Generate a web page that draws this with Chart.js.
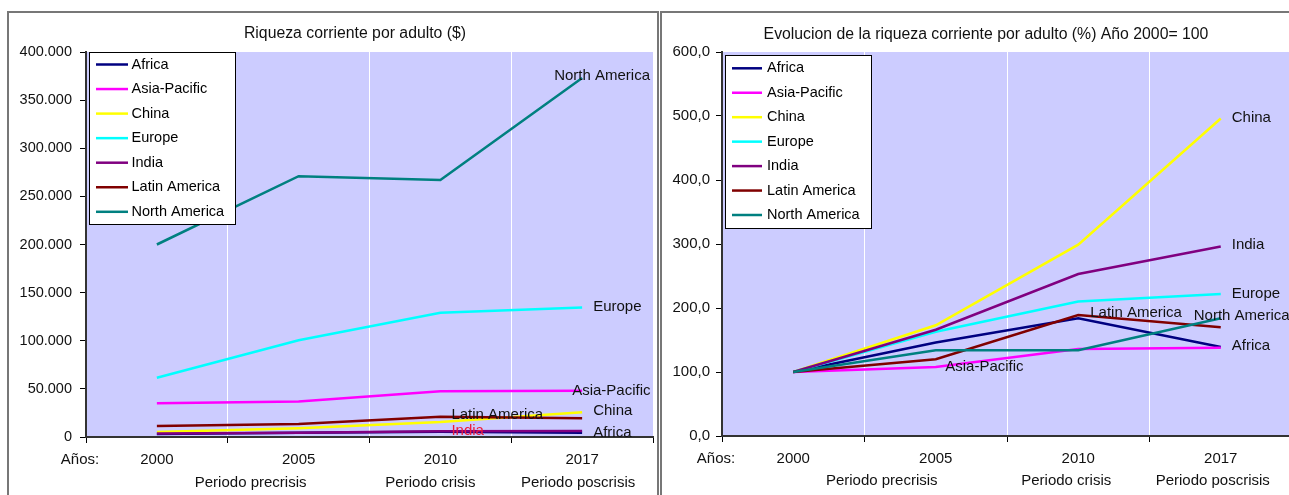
<!DOCTYPE html>
<html>
<head>
<meta charset="utf-8">
<script src="https://cdn.jsdelivr.net/npm/chart.js@4.4.0/dist/chart.umd.min.js"></script>
<style>
    body { margin: 0; background: #fff; overflow: hidden; width: 1289px; height: 495px; }
    .marco { position: absolute; border: 2px solid #777; overflow: hidden; background: #fff; }
    #marco1 { left: 7px; top: 11px; width: 648px; height: 490px; }
    #marco2 { left: 660px; top: 11px; width: 640px; height: 490px; }
    canvas { display: block; }
</style>
</head>
<body>
<div class="marco" id="marco1"><canvas id="chartRiqueza" width="648" height="484"></canvas></div>
<div class="marco" id="marco2"><canvas id="chartEvolucion" width="640" height="484"></canvas></div>

<script>
var anios = ['2000', '2005', '2010', '2017'];
var periodos = ['Periodo precrisis', 'Periodo crisis', 'Periodo poscrisis'];
var regiones = ['Africa', 'Asia-Pacific', 'China', 'Europe', 'India', 'Latin America', 'North America'];
var colores = ['#000080', '#FF00FF', '#FFFF00', '#00FFFF', '#800080', '#800000', '#008080'];

// riqueza corriente por adulto ($)
var riqueza_africa = [3000, 4300, 5400, 4300];
var riqueza_asia = [35000, 37000, 47500, 48000];
var riqueza_china = [5200, 9000, 15500, 25800];
var riqueza_europa = [61500, 100500, 129000, 134500];
var riqueza_india = [3700, 4400, 6000, 6300];
var riqueza_latam = [11500, 13500, 21000, 19500];
var riqueza_norteamerica = [200000, 271000, 267000, 373000];

// evolucion, año 2000 = 100
var indice_africa = [100, 146, 184, 139];
var indice_asia = [100, 108, 136, 138];
var indice_china = [100, 173, 299, 496];
var indice_europa = [100, 163, 210, 222];
var indice_india = [100, 166, 253, 296];
var indice_latam = [100, 120, 189, 170];
var indice_norteamerica = [100, 134, 134, 184];

var fuente = "'Liberation Sans', Arial, sans-serif";

function armarDatasets(series) {
    return regiones.map(function (region, i) {
        return {
            label: region,
            data: series[i],
            borderColor: colores[i],
            backgroundColor: colores[i],
            borderWidth: 2.5,
            pointRadius: 0,
            tension: 0,
            order: regiones.length - i   // como en Excel, la ultima serie queda encima
        };
    });
}

// fondo lila, titulo, leyenda con recuadro, etiquetas de series y periodos
var pluginExcel = {
    id: 'excel',
    beforeDraw: function (chart) {
        var ctx = chart.ctx, a = chart.chartArea;
        ctx.save();
        ctx.fillStyle = '#CCCCFF';
        ctx.fillRect(a.left, a.top, a.right - a.left, a.bottom - a.top);
        ctx.restore();
    },
    afterDatasetsDraw: function (chart, args, opts) {
        var ctx = chart.ctx, a = chart.chartArea;
        ctx.save();
        ctx.beginPath();
        ctx.rect(a.left, a.top, a.right - a.left, a.bottom - a.top);
        ctx.clip();
        ctx.font = '15px ' + fuente;
        ctx.textAlign = 'left';
        ctx.textBaseline = 'middle';
        opts.etiquetas.forEach(function (et) {
            var pt = chart.getDatasetMeta(et.serie).data[et.punto];
            ctx.fillStyle = et.color || '#111';
            ctx.fillText(regiones[et.serie], pt.x + et.dx, pt.y + et.dy);
        });
        ctx.restore();
    },
    afterDraw: function (chart, args, opts) {
        var ctx = chart.ctx, a = chart.chartArea, xs = chart.scales.x;
        ctx.save();
        ctx.fillStyle = '#111';

        ctx.font = '15.8px ' + fuente;
        ctx.textAlign = 'center';
        ctx.textBaseline = 'alphabetic';
        ctx.fillText(opts.titulo, opts.tituloX, opts.tituloY);

        // leyenda
        var ley = opts.leyenda;
        ctx.fillStyle = '#fff';
        ctx.fillRect(ley.x, ley.y, ley.w, ley.h);
        ctx.strokeStyle = '#000';
        ctx.lineWidth = 1;
        ctx.strokeRect(ley.x + 0.5, ley.y + 0.5, ley.w, ley.h);
        ctx.font = '14.5px ' + fuente;
        ctx.textAlign = 'left';
        ctx.textBaseline = 'middle';
        regiones.forEach(function (region, i) {
            var y = ley.fila1 + i * ley.paso;
            ctx.strokeStyle = colores[i];
            ctx.lineWidth = 2.5;
            ctx.beginPath();
            ctx.moveTo(ley.x + ley.linea0, y);
            ctx.lineTo(ley.x + ley.linea1, y);
            ctx.stroke();
            ctx.fillStyle = '#000';
            ctx.fillText(region, ley.x + ley.texto, y);
        });

        // "Años:" y periodos bajo el eje
        ctx.fillStyle = '#111';
        ctx.font = '15px ' + fuente;
        ctx.textAlign = 'center';
        ctx.fillText('Años:', a.left - 6, opts.aniosY);
        periodos.forEach(function (p, i) {
            ctx.fillText(p, xs.getPixelForValue(i + 1) + opts.periodoDx[i], opts.periodoY);
        });
        ctx.restore();
    }
};

function opcionesEje(ancho, alto, padY, tamY, maximo, paso, formato) {
    return {
        x: {
            offset: true,
            afterFit: function (scale) { scale.height = alto; },
            grid: {
                offset: true,
                color: function (c) { return c.index === 0 ? 'rgba(0,0,0,0)' : '#ffffff'; },
                tickColor: '#000',
                tickLength: 6,
                lineWidth: 1
            },
            border: { color: '#333', width: 2 },
            ticks: { color: '#111', padding: 8, font: { family: fuente, size: 15 } }
        },
        y: {
            min: 0,
            max: maximo,
            afterFit: function (scale) { scale.width = ancho; },
            grid: { drawOnChartArea: false, color: '#000', tickLength: 6 },
            border: { color: '#333', width: 2 },
            ticks: {
                stepSize: paso,
                color: '#111',
                padding: padY,
                font: { family: fuente, size: tamY },
                callback: formato
            }
        }
    };
}

var ctxRiqueza = document.getElementById('chartRiqueza');
var chartRiqueza = new Chart(ctxRiqueza, {
    type: 'line',
    data: {
        labels: anios,
        datasets: armarDatasets([riqueza_africa, riqueza_asia, riqueza_china, riqueza_europa, riqueza_india, riqueza_latam, riqueza_norteamerica])
    },
    plugins: [pluginExcel],
    options: {
        responsive: false,
        animation: false,
        events: [],
        layout: { padding: { top: 39, right: 4, left: 0, bottom: 0 } },
        scales: opcionesEje(77, 60, 8, 14.5, 400000, 50000, function (v) {
            return String(v).replace(/\B(?=(\d{3})+(?!\d))/g, '.');
        }),
        plugins: {
            legend: { display: false },
            title: { display: false },
            tooltip: { enabled: false },
            excel: {
                titulo: 'Riqueza corriente por adulto ($)',
                tituloX: 346,
                tituloY: 24.5,
                leyenda: { x: 80, y: 39, w: 146, h: 172, linea0: 7, linea1: 39, texto: 42.5, fila1: 51.5, paso: 24.55 },
                aniosY: 447,
                periodoY: 470,
                periodoDx: [-48, -10, -4],
                etiquetas: [
                    { serie: 6, punto: 3, dx: -28, dy: -2 },
                    { serie: 3, punto: 3, dx: 11, dy: -1 },
                    { serie: 1, punto: 3, dx: -10, dy: 0 },
                    { serie: 2, punto: 3, dx: 11, dy: -1.5 },
                    { serie: 0, punto: 3, dx: 11, dy: 0 },
                    { serie: 5, punto: 2, dx: 11, dy: -2 },
                    { serie: 4, punto: 2, dx: 11, dy: 0, color: '#ee1c3a' }
                ]
            }
        }
    }
});

var ctxEvolucion = document.getElementById('chartEvolucion');
var chartEvolucion = new Chart(ctxEvolucion, {
    type: 'line',
    data: {
        labels: anios,
        datasets: armarDatasets([indice_africa, indice_asia, indice_china, indice_europa, indice_india, indice_latam, indice_norteamerica])
    },
    plugins: [pluginExcel],
    options: {
        responsive: false,
        animation: false,
        events: [],
        layout: { padding: { top: 39, right: 10, left: 0, bottom: 0 } },
        scales: opcionesEje(60, 61, 6, 15, 600, 100, function (v) {
            return v.toFixed(1).replace('.', ',');
        }),
        plugins: {
            legend: { display: false },
            title: { display: false },
            tooltip: { enabled: false },
            excel: {
                titulo: 'Evolucion de la riqueza corriente por adulto (%) Año 2000= 100',
                tituloX: 324,
                tituloY: 26,
                leyenda: { x: 63, y: 42, w: 146, h: 173, linea0: 7, linea1: 37, texto: 42, fila1: 55.3, paso: 24.45 },
                aniosY: 446,
                periodoY: 468,
                periodoDx: [-54, -12, -8],
                etiquetas: [
                    { serie: 2, punto: 3, dx: 11, dy: -1 },
                    { serie: 4, punto: 3, dx: 11, dy: -2 },
                    { serie: 3, punto: 3, dx: 11, dy: 0 },
                    { serie: 6, punto: 3, dx: -27, dy: -2.5 },
                    { serie: 0, punto: 3, dx: 11, dy: -1 },
                    { serie: 5, punto: 2, dx: 12, dy: -2 },
                    { serie: 1, punto: 1, dx: 9.5, dy: 0 }
                ]
            }
        }
    }
});
</script>
</body>
</html>
